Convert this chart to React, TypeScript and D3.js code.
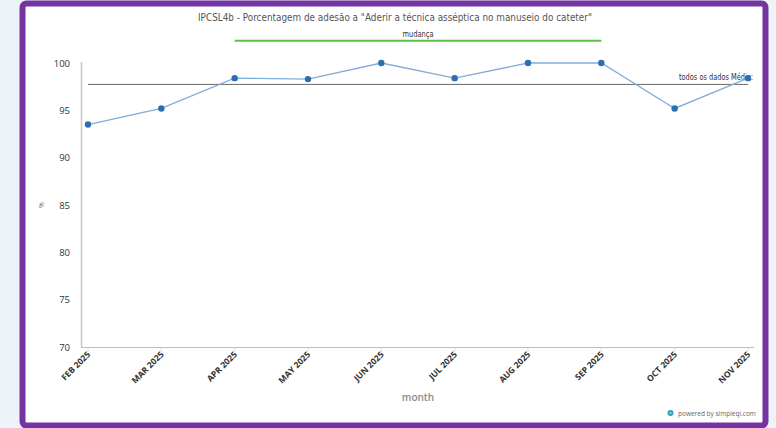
import React from "react";
import * as d3 from "d3";

// Monthly adherence percentages
const months = ["FEB 2025", "MAR 2025", "APR 2025", "MAY 2025", "JUN 2025", "JUL 2025", "AUG 2025", "SEP 2025", "OCT 2025", "NOV 2025"];
const adherence = [93.5, 95.2, 98.4, 98.3, 100, 98.4, 100, 100, 95.2, 98.4];
const yTicks = [70, 75, 80, 85, 90, 95, 100];
const changeStart = "APR 2025";
const changeEnd = "SEP 2025";

const title = 'IPCSL4b - Porcentagem de adesão a "Aderir a técnica asséptica no manuseio do cateter"';

const W = 776;
const H = 428;

export default function App() {
  const x = d3.scalePoint<string>().domain(months).range([88, 748]);
  const y = d3.scaleLinear().domain([70, 100]).range([347, 63]);
  const mean = d3.mean(adherence) as number;

  const line = d3
    .line<number>()
    .x((_, i) => x(months[i]) as number)
    .y((d) => y(d));

  const font = "'Open Sans', 'DejaVu Sans', sans-serif";
  const narrow = "'Liberation Sans Narrow', 'DejaVu Sans Condensed', sans-serif";

  return (
    <div style={{ position: "fixed", left: 0, top: 0, width: W, height: H }}>
      <svg width={W} height={H} style={{ display: "block" }}>
        <rect x={0} y={0} width={W} height={H} fill="#edf4f7" />
        {/* framed card */}
        <rect x={22.5} y={3.5} width={743} height={422} rx={4} fill="#ffffff" stroke="#7434a2" strokeWidth={6} />

        {/* title */}
        <text
          x={395}
          y={21}
          textAnchor="middle"
          fontFamily={narrow}
          fontSize={11}
          fill="#555"
          textLength={394}
          lengthAdjust="spacingAndGlyphs"
        >
          {title}
        </text>

        {/* change period marker */}
        <line x1={x(changeStart)} x2={x(changeEnd)} y1={40.7} y2={40.7} stroke="#5cbf4a" strokeWidth={2} />
        <text
          x={((x(changeStart) as number) + (x(changeEnd) as number)) / 2}
          y={37}
          textAnchor="middle"
          fontFamily={narrow}
          fontSize={8}
          fill="#333"
          textLength={31}
          lengthAdjust="spacingAndGlyphs"
        >
          mudança
        </text>

        {/* axes */}
        <line x1={81.5} x2={81.5} y1={62} y2={347.5} stroke="#c8c8c8" strokeWidth={1.5} />
        <line x1={81} x2={754} y1={347.5} y2={347.5} stroke="#bdbdbd" strokeWidth={1.2} />
        {months.map((m) => (
          <line key={m} x1={x(m)} x2={x(m)} y1={348} y2={352} stroke="#d6e2ee" strokeWidth={1} />
        ))}

        {yTicks.map((t) => (
          <text key={t} x={70} y={y(t) + 3.5} textAnchor="end" fontFamily={font} fontSize={9.5} fill="#333">
            {t}
          </text>
        ))}

        <text
          transform={`translate(44,205) rotate(-90)`}
          textAnchor="middle"
          fontFamily={font}
          fontSize={7}
          fill="#777"
        >
          %
        </text>

        {months.map((m) => (
          <text
            key={m}
            transform={`translate(${(x(m) as number) + 3},${355}) rotate(-45)`}
            textAnchor="end"
            fontFamily={font}
            fontSize={8.5}
            fontWeight={700}
            fill="#333"
          >
            {m}
          </text>
        ))}

        <text x={418} y={401} textAnchor="middle" fontFamily={font} fontSize={10} fontWeight={600} fill="#8a8a8a">
          month
        </text>

        {/* mean line */}
        <line x1={x(months[0])} x2={x(months[months.length - 1])} y1={y(mean)} y2={y(mean)} stroke="#666" strokeWidth={1} />
        <text
          x={753}
          y={y(mean) - 4}
          textAnchor="end"
          fontFamily={narrow}
          fontSize={9}
          fill="#333"
          textLength={74}
          lengthAdjust="spacingAndGlyphs"
        >
          todos os dados Média:
        </text>

        {/* series */}
        <path d={line(adherence) ?? ""} fill="none" stroke="#7eaedb" strokeWidth={1.3} />
        {adherence.map((v, i) => (
          <circle key={months[i]} cx={x(months[i])} cy={y(v)} r={3.2} fill="#2b6eb3" />
        ))}

        {/* footer */}
        <circle cx={670.5} cy={413} r={3} fill="#2a9bd6" />
        <circle cx={670.5} cy={413} r={1.3} fill="#8ed16b" />
        <text x={678} y={415.5} fontFamily={font} fontSize={6.5} fill="#666">
          powered by simpleqi.com
        </text>
      </svg>
    </div>
  );
}
